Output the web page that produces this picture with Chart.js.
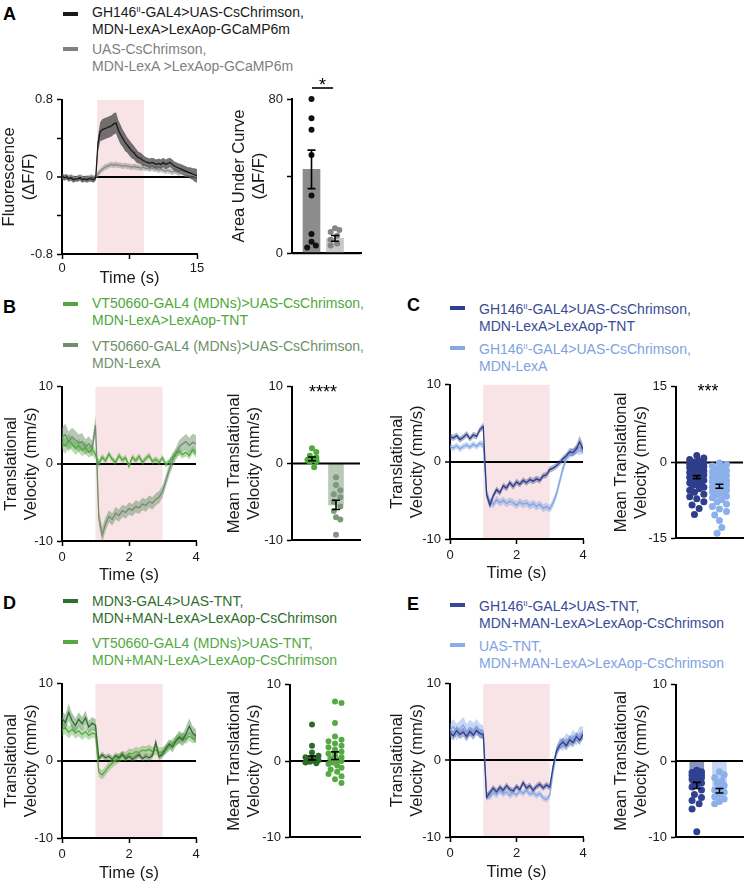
<!DOCTYPE html>
<html><head><meta charset="utf-8">
<script src="https://cdn.jsdelivr.net/npm/chart.js@4.4.1/dist/chart.umd.min.js"></script>
<style>
html,body{margin:0;padding:0;background:#fff;}
body{width:747px;height:884px;position:relative;overflow:hidden;font-family:"Liberation Sans",Arial,sans-serif;}
canvas{position:absolute;}
.lbl{position:absolute;font-weight:bold;font-size:18px;line-height:18px;color:#000;}
.leg{position:absolute;font-size:14px;line-height:17px;white-space:nowrap;}
.sw{position:absolute;width:15px;height:4px;}
sup{font-size:8px;vertical-align:5px;line-height:0;}
</style></head><body>

<div class="lbl" style="left:3px;top:5px">A</div>
<div class="sw" style="left:63px;top:12px;background:#1a1a1a"></div>
<div class="leg" style="left:92px;top:4px;color:#1a1a1a">GH146<sup>II</sup>-GAL4&gt;UAS-CsChrimson,<br>MDN-LexA&gt;LexAop-GCaMP6m</div>
<div class="sw" style="left:63px;top:47px;background:#808080"></div>
<div class="leg" style="left:92px;top:41px;color:#808080">UAS-CsChrimson,<br>MDN-LexA &gt;LexAop-GCaMP6m</div>

<div class="lbl" style="left:3px;top:298px">B</div>
<div class="sw" style="left:63px;top:302px;background:#4fa83d"></div>
<div class="leg" style="left:92px;top:295px;color:#4ea83a">VT50660-GAL4 (MDNs)&gt;UAS-CsChrimson,<br>MDN-LexA&gt;LexAop-TNT</div>
<div class="sw" style="left:63px;top:343px;background:#6f8f6b"></div>
<div class="leg" style="left:92px;top:338px;color:#6f8f6b">VT50660-GAL4 (MDNs)&gt;UAS-CsChrimson,<br>MDN-LexA</div>

<div class="lbl" style="left:407px;top:296px">C</div>
<div class="sw" style="left:450px;top:306px;background:#2f3f8b"></div>
<div class="leg" style="left:479px;top:301px;color:#3a4a96">GH146<sup>II</sup>-GAL4&gt;UAS-CsChrimson,<br>MDN-LexA&gt;LexAop-TNT</div>
<div class="sw" style="left:450px;top:346px;background:#86a9e6"></div>
<div class="leg" style="left:479px;top:341px;color:#7ea2e2">GH146<sup>II</sup>-GAL4&gt;UAS-CsChrimson,<br>MDN-LexA</div>

<div class="lbl" style="left:3px;top:594px">D</div>
<div class="sw" style="left:63px;top:599px;background:#2f6e2b"></div>
<div class="leg" style="left:92px;top:593px;color:#2f6e2b">MDN3-GAL4&gt;UAS-TNT,<br>MDN+MAN-LexA&gt;LexAop-CsChrimson</div>
<div class="sw" style="left:63px;top:640px;background:#55a844"></div>
<div class="leg" style="left:92px;top:635px;color:#52a841">VT50660-GAL4 (MDNs)&gt;UAS-TNT,<br>MDN+MAN-LexA&gt;LexAop-CsChrimson</div>

<div class="lbl" style="left:407px;top:595px">E</div>
<div class="sw" style="left:450px;top:603px;background:#34479b"></div>
<div class="leg" style="left:479px;top:598px;color:#3a4a96">GH146<sup>II</sup>-GAL4&gt;UAS-TNT,<br>MDN+MAN-LexA&gt;LexAop-CsChrimson</div>
<div class="sw" style="left:450px;top:643px;background:#89aee9"></div>
<div class="leg" style="left:479px;top:638px;color:#7ea2e2">UAS-TNT,<br>MDN+MAN-LexA&gt;LexAop-CsChrimson</div>

<script>
// ---------------- DATA ----------------
// Panel A: calcium imaging traces (time in s)
const tA = [0,0.25,0.5,0.75,1,1.25,1.5,1.75,2,2.25,2.5,2.75,3,3.25,3.5,3.75,4,4.25,4.5,4.75,5,5.25,5.5,5.75,6,6.25,6.5,6.75,7,7.25,7.5,7.75,8,8.25,8.5,8.75,9,9.25,9.5,9.75,10,10.25,10.5,10.75,11,11.25,11.5,11.75,12,12.25,12.5,12.75,13,13.25,13.5,13.75,14,14.25,14.5,14.75,15];
const aMeanGH146 = [0.01,-0.01,0.00,-0.02,-0.01,-0.03,-0.02,-0.02,-0.01,-0.03,-0.02,-0.03,-0.02,-0.02,-0.03,-0.01,
  0.35,0.47,0.49,0.50,0.51,0.52,0.53,0.55,0.56,0.49,0.44,0.40,0.36,0.33,0.30,0.27,0.25,0.22,0.20,0.19,0.17,0.16,0.15,0.14,0.15,0.14,0.13,0.14,0.13,0.15,0.13,0.14,0.15,0.13,0.11,0.10,0.09,0.08,0.07,0.06,0.05,0.04,0.03,0.02,0.01];
const aSemGH146 = [0.03,0.03,0.03,0.03,0.03,0.03,0.03,0.03,0.03,0.03,0.03,0.03,0.03,0.03,0.03,0.03,
  0.08,0.10,0.11,0.11,0.11,0.11,0.11,0.11,0.11,0.10,0.10,0.09,0.09,0.08,0.08,0.08,0.07,0.07,0.06,0.06,0.06,0.05,0.05,0.05,0.05,0.05,0.05,0.05,0.05,0.05,0.05,0.05,0.05,0.05,0.05,0.05,0.05,0.05,0.05,0.05,0.05,0.06,0.06,0.07,0.07];
const aMeanCtrl = [0.00,0.01,-0.01,0.00,0.01,0.00,-0.01,0.00,0.01,0.00,-0.01,0.00,0.00,0.01,0.00,0.00,
  0.03,0.06,0.08,0.10,0.11,0.12,0.13,0.12,0.13,0.12,0.12,0.11,0.12,0.11,0.11,0.10,0.11,0.10,0.10,0.09,0.10,0.09,0.09,0.08,0.09,0.08,0.08,0.07,0.08,0.07,0.06,0.07,0.06,0.05,0.06,0.05,0.04,0.05,0.04,0.03,0.03,0.02,0.02,0.01,0.00];
const aSemCtrl = [0.02,0.02,0.02,0.02,0.02,0.02,0.02,0.02,0.02,0.02,0.02,0.02,0.02,0.02,0.02,0.02,
  0.03,0.03,0.03,0.03,0.03,0.03,0.03,0.03,0.03,0.03,0.03,0.03,0.03,0.03,0.03,0.03,0.03,0.03,0.03,0.03,0.03,0.03,0.03,0.03,0.03,0.03,0.03,0.03,0.03,0.03,0.03,0.03,0.03,0.03,0.03,0.03,0.03,0.03,0.03,0.03,0.03,0.03,0.03,0.03,0.03];
const aucGH146 = [80, 70, 64, 51, 30, 10, 6, 4, 3];
const aucCtrl = [13, 12, 11, 9, 7, 5, 4];
const aucMean = [43.5, 7.7];
const aucSem = [10.0, 1.5];

// Panels B-E: translational velocity traces (time in s)
const tVel = [0,0.1,0.2,0.3,0.4,0.5,0.6,0.7,0.8,0.9,1.0,1.1,1.2,1.3,1.4,1.5,1.6,1.7,1.8,1.9,2.0,2.1,2.2,2.3,2.4,2.5,2.6,2.7,2.8,2.9,3.0,3.1,3.2,3.3,3.4,3.5,3.6,3.7,3.8,3.9,4.0];

const bMeanTNT = [2.8,2.3,3.0,2.6,2.0,2.4,1.8,2.1,1.5,1.9, 1.2,0.0,0.9,0.4,1.3,0.6,0.2,1.1,0.5,0.8, -0.3,0.9,0.4,1.0,0.2,0.7,1.1,0.3,0.6,0.2, 0.8,-0.1,0.3,0.9,1.4,1.6,1.2,1.5,1.1,1.8, 1.3];
const bSemTNT = [0.9,1.0,0.9,0.9,0.8,0.9,0.8,0.8,0.7,0.8, 0.6,0.5,0.4,0.4,0.4,0.4,0.4,0.4,0.4,0.4, 0.4,0.4,0.4,0.4,0.4,0.4,0.4,0.4,0.4,0.4, 0.4,0.4,0.4,0.5,0.5,0.5,0.5,0.5,0.5,0.5, 0.5];
const bMeanCtrl = [3.4,3.8,2.9,3.5,3.1,2.7,2.9,2.2,2.6,2.0, 5.0,-7.0,-9.2,-7.8,-6.8,-7.2,-6.4,-6.7,-6.1,-6.3, -5.8,-6.0,-5.5,-5.7,-5.2,-5.4,-4.9,-5.1,-4.6,-4.3, -3.6,-2.2,-0.8,0.4,1.3,2.2,2.6,2.9,2.4,2.8, 2.6];
const bSemCtrl = [1.3,1.4,1.3,1.2,1.2,1.1,1.1,1.0,1.0,1.0, 1.2,1.0,1.0,0.9,0.8,0.8,0.8,0.8,0.8,0.8, 0.8,0.8,0.8,0.8,0.8,0.8,0.8,0.8,0.8,0.8, 0.8,0.8,0.8,0.8,0.8,0.9,0.9,1.0,1.0,1.1, 1.1];
const bDotsTNT = [2.0, 1.5, 1.0, 0.8, 0.6, 0.5, 0.3, 0.2, -0.5];
const bDotsCtrl = [-1.8, -2.8, -3.5, -4.0, -4.4, -5.0, -5.6, -6.2, -7.0, -7.3, -9.3];
const bMean = [0.6, -5.4];
const bSem = [0.25, 0.6];

const cMeanTNT = [3.3,3.1,3.4,2.9,3.2,3.6,3.0,3.5,3.3,4.2, 4.6,-4.2,-5.6,-4.4,-3.6,-4.0,-3.1,-3.4,-2.7,-3.2, -2.6,-2.9,-2.4,-2.7,-2.3,-2.5,-2.2,-2.4,-1.8,-1.7, -1.0,-0.8,-0.5,-0.1,0.4,0.8,1.3,1.2,1.7,2.6, 1.6];
const cSemTNT = [0.4,0.4,0.4,0.4,0.4,0.4,0.4,0.4,0.4,0.4, 0.5,0.6,0.5,0.4,0.4,0.4,0.4,0.4,0.4,0.4, 0.4,0.4,0.4,0.4,0.4,0.4,0.4,0.4,0.4,0.4, 0.4,0.4,0.4,0.4,0.4,0.4,0.5,0.5,0.6,0.8, 0.7];
const cMeanCtrl = [2.0,1.8,2.1,1.7,2.0,2.2,1.9,2.3,2.0,2.4, 2.2,-4.0,-5.2,-5.5,-4.9,-5.3,-5.0,-5.4,-5.1,-5.3, -5.6,-5.2,-5.5,-5.3,-5.7,-5.4,-5.8,-5.5,-6.0,-5.8, -6.1,-5.3,-4.2,-2.5,-0.8,0.5,1.0,1.3,1.5,1.4, 1.7];
const cSemCtrl = [0.4,0.4,0.4,0.4,0.4,0.4,0.4,0.4,0.4,0.4, 0.5,0.6,0.5,0.5,0.5,0.5,0.5,0.5,0.5,0.5, 0.5,0.5,0.5,0.5,0.5,0.5,0.5,0.5,0.5,0.5, 0.5,0.6,0.6,0.6,0.6,0.6,0.5,0.5,0.5,0.5, 0.5];
const cDotsTNT = [1.4,0.9,0.6,0.3,0.1,-0.1,-0.3,-0.5,-0.7,-0.8,-1.0,-1.1,-1.3,-1.4,-1.5,-1.7,-1.8,-2.0,-2.1,-2.2,-2.4,-2.5,-2.6,-2.8,-2.9,-3.0,-3.2,-3.3,-3.5,-3.6,-3.8,-4.0,-4.2,-4.4,-4.6,-4.9,-5.2,-5.5,-5.9,-6.3,-6.8,-7.2,-7.8,-8.4,-9.1,-10.3];
const cDotsCtrl = [-0.1,-0.4,-0.7,-1.0,-1.3,-1.6,-1.9,-2.1,-2.4,-2.6,-2.9,-3.1,-3.3,-3.6,-3.8,-4.0,-4.3,-4.5,-4.8,-5.0,-5.3,-5.5,-5.8,-6.1,-6.4,-6.7,-7.0,-7.4,-7.8,-8.2,-8.7,-9.2,-9.7,-10.4,-11.5,-12.9,-14.0];
const cMean = [-2.9, -4.7];
const cSem = [0.3, 0.4];

const dMeanMDN3 = [5.5,5.0,6.3,5.2,4.6,5.4,4.8,5.6,4.4,4.9, 4.6,0.3,0.8,0.4,0.6,0.2,0.7,0.4,0.9,0.3, 0.6,0.2,0.5,0.8,0.3,0.6,0.4,0.7,2.4,0.5, 0.9,1.6,2.2,1.8,2.6,3.1,2.7,3.5,4.5,3.6, 3.2];
const dSemMDN3 = [1.0,1.0,1.1,1.0,0.9,0.9,0.9,0.9,0.8,0.8, 0.8,0.4,0.4,0.4,0.4,0.4,0.4,0.4,0.4,0.4, 0.4,0.4,0.4,0.4,0.4,0.4,0.4,0.4,0.5,0.4, 0.5,0.6,0.6,0.7,0.7,0.8,0.8,0.9,1.0,0.9, 0.9];
const dMeanVT = [4.0,4.3,3.7,4.1,3.6,3.9,3.4,3.8,3.3,3.6, 3.5,-1.5,-1.8,-1.3,-0.7,-0.3,0.1,0.4,0.7,0.6, 1.0,0.9,1.2,1.1,1.4,1.3,1.5,1.2,1.4,1.1, 1.2,1.5,1.9,2.3,2.6,2.9,3.1,2.8,3.2,2.9, 3.0];
const dSemVT = [0.8,0.8,0.8,0.7,0.7,0.7,0.7,0.7,0.6,0.6, 0.6,0.6,0.6,0.6,0.6,0.6,0.6,0.6,0.6,0.6, 0.6,0.6,0.6,0.6,0.6,0.6,0.6,0.6,0.6,0.6, 0.6,0.6,0.6,0.6,0.6,0.6,0.6,0.6,0.6,0.6, 0.6];
const dDotsMDN3 = [4.8, 2.0, 1.1, 0.7, 0.5, 0.4, 0.3, 0.2, 0.1, 0.0, -0.1, -0.2, -0.3];
const dDotsVT = [7.8,7.6,5.0,3.2,2.8,2.6,2.3,2.0,1.8,1.5,1.2,1.0,0.8,0.5,0.3,0.1,0.0,-0.2,-0.4,-0.6,-0.9,-1.1,-1.4,-1.7,-2.0,-2.4,-2.9];
const dMean = [0.4, 0.7];
const dSem = [0.25, 0.5];

const eMeanGH = [3.6,3.2,3.9,3.4,3.7,3.1,3.8,3.3,3.9,3.5, 3.4,-4.8,-4.2,-3.6,-4.1,-3.5,-3.9,-3.3,-3.8,-4.0, -3.4,-3.8,-2.9,-3.6,-3.3,-3.9,-3.4,-3.1,-3.6,-3.2, -3.5,-0.8,1.2,2.0,2.4,1.9,2.7,2.3,3.1,2.6, 3.4];
const eSemGH = [0.6,0.6,0.6,0.6,0.6,0.6,0.6,0.6,0.6,0.6, 0.6,0.5,0.4,0.4,0.4,0.4,0.4,0.4,0.4,0.4, 0.4,0.4,0.4,0.4,0.4,0.4,0.4,0.4,0.4,0.4, 0.4,0.5,0.6,0.6,0.6,0.6,0.6,0.6,0.6,0.6, 0.6];
const eMeanCtrl = [3.9,4.4,3.7,4.2,4.6,3.8,4.3,4.0,4.5,3.9, 3.7,-4.5,-4.8,-4.2,-4.5,-4.0,-4.4,-4.1,-4.6,-4.2, -4.5,-4.0,-4.3,-3.9,-4.4,-4.2,-4.6,-4.3,-4.9,-5.1, -4.6,-1.5,1.0,2.3,2.0,2.8,2.4,3.2,2.7,3.5, 3.6];
const eSemCtrl = [0.9,1.0,1.1,1.0,1.1,1.0,1.0,0.9,0.9,0.9, 0.9,0.5,0.4,0.4,0.4,0.4,0.4,0.4,0.4,0.4, 0.4,0.4,0.4,0.4,0.4,0.4,0.4,0.4,0.4,0.4, 0.4,0.6,0.7,0.7,0.8,0.8,0.8,0.8,0.8,0.9, 0.9];
const eDotsGH = [-1.2,-1.4,-1.5,-1.7,-1.8,-1.9,-2.0,-2.1,-2.2,-2.3,-2.4,-2.5,-2.7,-2.9,-3.1,-3.4,-3.8,-4.4,-4.8,-5.2,-5.6,-6.3,-9.3];
const eDotsCtrl = [-1.4,-1.8,-2.2,-2.6,-2.9,-3.2,-3.5,-3.8,-4.1,-4.4,-4.7,-5.0,-5.3,-5.6];
const eMean = [-3.2, -3.9];
const eSem = [0.4, 0.3];

// tick values and labels
const aLineXTicks = [0, 7.5, 15], aLineXLabels = ['0', '', '15'];
const aLineYTicks = [-0.8, -0.4, 0, 0.4, 0.8], aLineYLabels = ['-0.8', '', '0', '', '0.8'];
const aBarYTicks = [0, 40, 80], aBarYLabels = ['0', '', '80'];
const velXTicks = [0, 2, 4], velXLabels = ['0', '2', '4'];
const velYTicks = [-10, 0, 10], velYLabels = ['-10', '0', '10'];
const cBarYTicks = [-15, 0, 15], cBarYLabels = ['-15', '0', '15'];
const lightA = [3.9, 9.1], lightVel = [1, 3];

// ---------------- RENDERING ----------------
const FONT = '"Liberation Sans", Arial, sans-serif';
Chart.defaults.font.family = FONT;
Chart.defaults.color = '#1a1a1a';

function makeCanvas(left, top, w, h) {
  const c = document.createElement('canvas');
  c.width = w; c.height = h;
  c.style.left = left + 'px'; c.style.top = top + 'px';
  c.style.width = w + 'px'; c.style.height = h + 'px';
  document.body.appendChild(c);
  return c;
}
const setTicks = vals => s => { s.ticks = vals.map(v => ({value: v})); };
const isZero = ctx => ctx.tick && Math.abs(ctx.tick.value) < 1e-9;

Chart.register({
  id: 'lightWin',
  beforeDraw(chart, args, o) {
    if (!o || !o.range) return;
    const {ctx, chartArea: a, scales: {x}} = chart;
    const x0 = x.getPixelForValue(o.range[0]), x1 = x.getPixelForValue(o.range[1]);
    ctx.save(); ctx.fillStyle = o.color; ctx.fillRect(x0, a.top, x1 - x0, a.bottom - a.top); ctx.restore();
  }
});
Chart.register({
  id: 'extras',
  afterDatasetDraw(chart, args, o) {
    if (!o || o.zeroAfter !== args.index) return;
    const {ctx, chartArea: a, scales: {y}} = chart;
    const py = y.getPixelForValue(0);
    ctx.save(); ctx.strokeStyle = '#000'; ctx.lineWidth = 2;
    ctx.beginPath(); ctx.moveTo(a.left, py); ctx.lineTo(a.right, py); ctx.stroke(); ctx.restore();
  },
  afterDatasetsDraw(chart, args, o) {
    if (!o) return;
    const {ctx, chartArea: a, scales: {x, y}} = chart;
    ctx.save();
    (o.errs || []).forEach(e => {
      const px = x.getPixelForValue(e.x);
      const y0 = y.getPixelForValue(e.mean - e.sem), y1 = y.getPixelForValue(e.mean + e.sem);
      ctx.strokeStyle = '#000'; ctx.lineWidth = 1.6;
      ctx.beginPath();
      ctx.moveTo(px, y0); ctx.lineTo(px, y1);
      ctx.moveTo(px - 4, y0); ctx.lineTo(px + 4, y0);
      ctx.moveTo(px - 4, y1); ctx.lineTo(px + 4, y1);
      ctx.stroke();
    });
    if (o.sig) {
      const s = o.sig;
      ctx.fillStyle = '#000'; ctx.font = '18px ' + FONT;
      ctx.textAlign = 'center'; ctx.textBaseline = 'alphabetic';
      ctx.fillText(s.text, x.getPixelForValue(s.x), a.top + s.cy + 9.5);
      if (s.bracket) {
        const by = a.top + s.by;
        ctx.strokeStyle = '#000'; ctx.lineWidth = 1.6;
        ctx.beginPath(); ctx.moveTo(x.getPixelForValue(s.bracket[0]), by); ctx.lineTo(x.getPixelForValue(s.bracket[1]), by); ctx.stroke();
      }
    }
    ctx.restore();
  }
});

function lineChart(box, c) {
  const yW = 62, pt = 10, pr = 12;
  const W = box.r - box.l + yW + pr, H = box.b - box.t + pt + c.xH;
  const cv = makeCanvas(box.l - yW, box.t - pt, W, H);
  const datasets = [];
  c.traces.forEach((tr, i) => datasets.push({
    type: 'line', data: tr.t.map((t, k) => ({x: t, y: tr.mean[k]})),
    borderColor: tr.line, borderWidth: 1.3, pointRadius: 0, fill: false, order: i, tension: 0
  }));
  c.traces.forEach((tr, i) => {
    datasets.push({type: 'line', data: tr.t.map((t, k) => ({x: t, y: tr.mean[k] + tr.sem[k]})),
      borderColor: 'rgba(0,0,0,0)', borderWidth: 0, pointRadius: 0, backgroundColor: tr.band, fill: '+1', order: 10 + 2 * i});
    datasets.push({type: 'line', data: tr.t.map((t, k) => ({x: t, y: tr.mean[k] - tr.sem[k]})),
      borderColor: 'rgba(0,0,0,0)', borderWidth: 0, pointRadius: 0, fill: false, order: 10 + 2 * i});
  });
  new Chart(cv, {
    type: 'line',
    data: {datasets},
    options: {
      responsive: false, animation: false, events: [],
      layout: {padding: {top: pt, right: pr, left: 0, bottom: 0}},
      plugins: {legend: {display: false}, tooltip: {enabled: false},
        lightWin: {range: c.light, color: '#f8e4e6'}, extras: {}},
      scales: {
        x: {type: 'linear', min: c.xTicks[0], max: c.xTicks[c.xTicks.length - 1],
          afterBuildTicks: setTicks(c.xTicks),
          ticks: {callback: (v, i) => c.xLabels[i], font: {size: 13}, color: '#1a1a1a', padding: c.xPad, maxRotation: 0, autoSkip: false},
          grid: {drawOnChartArea: false, tickLength: 5, tickColor: '#000', tickWidth: 1.5},
          border: {color: '#000', width: 2},
          title: {display: true, text: 'Time (s)', font: {size: 16.5}, color: '#1a1a1a', padding: 0},
          afterFit: s => { s.height = c.xH; }},
        y: {type: 'linear', min: c.yTicks[0], max: c.yTicks[c.yTicks.length - 1],
          afterBuildTicks: setTicks(c.yTicks),
          ticks: {callback: (v, i) => c.yLabels[i], font: {size: 13}, color: '#1a1a1a', padding: 4, autoSkip: false},
          grid: {color: ctx => isZero(ctx) ? '#000' : 'rgba(0,0,0,0)', lineWidth: ctx => isZero(ctx) ? 2 : 1,
            tickLength: 5, tickColor: '#000', tickWidth: 1.5},
          border: {color: '#000', width: 2},
          title: {display: true, text: c.yTitle, font: {size: 16.5}, color: '#1a1a1a', padding: {top: c.yPad, bottom: 0}},
          afterFit: s => { s.width = yW; }}
      }
    }
  });
}

function swarm(vals, pxY, d, maxHalf) {
  const idx = vals.map((v, i) => i).sort((a, b) => vals[b] - vals[a]);
  const placed = [], off = new Array(vals.length).fill(0);
  idx.forEach(i => {
    const yp = vals[i] * pxY;
    let best = 0, bestGap = -1;
    const step = d / 3;
    for (let k = 0; ; k++) {
      const mag = Math.ceil(k / 2) * step;
      if (mag > maxHalf) break;
      const cand = (k % 2 ? 1 : -1) * mag;
      let gap = Infinity;
      placed.forEach(p => { const g = Math.hypot(p.x - cand, p.y - yp); if (g < gap) gap = g; });
      if (gap >= d) { best = cand; break; }
      if (gap > bestGap) { bestGap = gap; best = cand; }
    }
    placed.push({x: best, y: yp});
    off[i] = best;
  });
  return off;
}

function barChart(box, c) {
  const yW = 70, pt = c.pt, pr = c.pr, pb = 10, xH = 1;
  const W = box.r - box.l + yW + pr, H = box.b - box.t + pt + xH + pb;
  const cv = makeCanvas(box.l - yW, box.t - pt, W, H);
  const yMin = c.yTicks[0], yMax = c.yTicks[c.yTicks.length - 1];
  const pxY = (box.b - box.t) / (yMax - yMin);
  const pxX = (box.r - box.l) / (c.xRange[1] - c.xRange[0]);
  const datasets = [{type: 'bar', data: c.groups.map((g, i) => ({x: i + 1, y: g.mean})),
    backgroundColor: c.groups.map(g => g.bar), barThickness: c.barW, borderWidth: 0, order: 5}];
  c.groups.forEach((g, i) => {
    const off = swarm(g.dots, pxY, c.r * 2 + 0.5, c.maxHalf);
    datasets.push({type: 'scatter', data: g.dots.map((v, k) => ({x: i + 1 + off[k] / pxX, y: v})),
      backgroundColor: g.dot, borderWidth: 0, pointRadius: c.r, order: 1, clip: false});
  });
  new Chart(cv, {
    type: 'bar',
    data: {datasets},
    options: {
      responsive: false, animation: false, events: [],
      layout: {padding: {top: pt, right: pr, left: 0, bottom: pb}},
      plugins: {legend: {display: false}, tooltip: {enabled: false},
        extras: {zeroAfter: 0, errs: c.groups.map((g, i) => ({x: i + 1, mean: g.mean, sem: g.sem})), sig: c.sig}},
      scales: {
        x: {type: 'linear', min: c.xRange[0], max: c.xRange[1], offset: false,
          ticks: {display: false}, grid: {display: false},
          border: {display: true, color: '#000', width: 2},
          afterFit: s => { s.height = xH; }},
        y: {type: 'linear', min: yMin, max: yMax,
          afterBuildTicks: setTicks(c.yTicks),
          ticks: {callback: (v, i) => c.yLabels[i], font: {size: 13}, color: '#1a1a1a', padding: 4, autoSkip: false},
          grid: {drawOnChartArea: false, tickLength: 5, tickColor: '#000', tickWidth: 1.5},
          border: {color: '#000', width: 2},
          title: {display: true, text: c.yTitle, font: {size: 16.5}, color: '#1a1a1a', padding: {top: c.yPad, bottom: 0}},
          afterFit: s => { s.width = yW; }}
      }
    }
  });
}

const velTitle = ['Translational', 'Velocity (mm/s)'];
const meanVelTitle = ['Mean Translational', 'Velocity (mm/s)'];

// Panel A
lineChart({l: 62, r: 197, t: 98, b: 254}, {
  xTicks: aLineXTicks, xLabels: aLineXLabels, yTicks: aLineYTicks, yLabels: aLineYLabels,
  xH: 34, xPad: 2, yPad: 0, yTitle: ['Fluorescence', '(\u0394F/F)'], light: lightA,
  traces: [
    {t: tA, mean: aMeanGH146, sem: aSemGH146, line: '#1a1a1a', band: 'rgba(70,70,70,0.75)'},
    {t: tA, mean: aMeanCtrl, sem: aSemCtrl, line: '#8a8a8a', band: 'rgba(150,150,150,0.55)'}
  ]
});
barChart({l: 292, r: 361, t: 99, b: 254}, {
  yTicks: aBarYTicks, yLabels: aBarYLabels, yTitle: ['Area Under Curve', '(\u0394F/F)'], yPad: 8,
  pt: 25, pr: 10, xRange: [0.17, 3.106], barW: 17, r: 3, maxHalf: 6,
  groups: [
    {mean: aucMean[0], sem: aucSem[0], dots: aucGH146, bar: '#8c8c8c', dot: '#111111'},
    {mean: aucMean[1], sem: aucSem[1], dots: aucCtrl, bar: '#c8c8c8', dot: '#858585'}
  ],
  sig: {text: '*', x: 1.47, cy: -17.5, bracket: [1.02, 1.92], by: -11}
});

// Panel B
lineChart({l: 62, r: 196, t: 385, b: 541}, {
  xTicks: velXTicks, xLabels: velXLabels, yTicks: velYTicks, yLabels: velYLabels,
  xH: 44, xPad: 4, yPad: 2, yTitle: velTitle, light: lightVel,
  traces: [
    {t: tVel, mean: bMeanTNT, sem: bSemTNT, line: '#4fa83d', band: 'rgba(79,168,61,0.4)'},
    {t: tVel, mean: bMeanCtrl, sem: bSemCtrl, line: '#6f8f6b', band: 'rgba(111,143,107,0.5)'}
  ]
});
barChart({l: 292, r: 360, t: 385, b: 541}, {
  yTicks: velYTicks, yLabels: velYLabels, yTitle: meanVelTitle, yPad: 3,
  pt: 10, pr: 10, xRange: [0.167, 3.0], barW: 15, r: 3, maxHalf: 6,
  groups: [
    {mean: bMean[0], sem: bSem[0], dots: bDotsTNT, bar: 'rgba(79,168,61,0.35)', dot: '#4faa3c'},
    {mean: bMean[1], sem: bSem[1], dots: bDotsCtrl, bar: '#b8cab6', dot: '#7d987a'}
  ],
  sig: {text: '****', x: 1.46, cy: 2}
});

// Panel C
lineChart({l: 450, r: 583, t: 383, b: 539}, {
  xTicks: velXTicks, xLabels: velXLabels, yTicks: velYTicks, yLabels: velYLabels,
  xH: 44, xPad: 4, yPad: 0, yTitle: velTitle, light: lightVel,
  traces: [
    {t: tVel, mean: cMeanTNT, sem: cSemTNT, line: '#2c3c86', band: 'rgba(44,60,134,0.4)'},
    {t: tVel, mean: cMeanCtrl, sem: cSemCtrl, line: '#7fa3e3', band: 'rgba(127,163,227,0.45)'}
  ]
});
barChart({l: 676, r: 747, t: 385, b: 539}, {
  yTicks: cBarYTicks, yLabels: cBarYLabels, yTitle: meanVelTitle, yPad: 6,
  pt: 10, pr: 0, xRange: [0.083, 3.04], barW: 18, r: 3.5, maxHalf: 8,
  groups: [
    {mean: cMean[0], sem: cSem[0], dots: cDotsTNT, bar: 'rgba(47,63,139,0.45)', dot: '#2e3e8a'},
    {mean: cMean[1], sem: cSem[1], dots: cDotsCtrl, bar: 'rgba(138,174,232,0.45)', dot: '#8cb0ea'}
  ],
  sig: {text: '***', x: 1.5, cy: 1}
});

// Panel D
lineChart({l: 62, r: 196, t: 682, b: 838}, {
  xTicks: velXTicks, xLabels: velXLabels, yTicks: velYTicks, yLabels: velYLabels,
  xH: 45, xPad: 4, yPad: 2, yTitle: velTitle, light: lightVel,
  traces: [
    {t: tVel, mean: dMeanMDN3, sem: dSemMDN3, line: '#2f6e2b', band: 'rgba(47,110,43,0.4)'},
    {t: tVel, mean: dMeanVT, sem: dSemVT, line: '#55a844', band: 'rgba(85,168,68,0.4)'}
  ]
});
barChart({l: 290, r: 360, t: 683, b: 838}, {
  yTicks: velYTicks, yLabels: velYLabels, yTitle: meanVelTitle, yPad: 5,
  pt: 10, pr: 10, xRange: [0.043, 3.087], barW: 16, r: 3, maxHalf: 7,
  groups: [
    {mean: dMean[0], sem: dSem[0], dots: dDotsMDN3, bar: 'rgba(47,110,43,0.35)', dot: '#2d6b29'},
    {mean: dMean[1], sem: dSem[1], dots: dDotsVT, bar: 'rgba(85,168,68,0.35)', dot: '#56aa44'}
  ]
});

// Panel E
lineChart({l: 450, r: 583, t: 682, b: 837}, {
  xTicks: velXTicks, xLabels: velXLabels, yTicks: velYTicks, yLabels: velYLabels,
  xH: 45, xPad: 4, yPad: 0, yTitle: velTitle, light: lightVel,
  traces: [
    {t: tVel, mean: eMeanGH, sem: eSemGH, line: '#2d3f8c', band: 'rgba(45,63,140,0.4)'},
    {t: tVel, mean: eMeanCtrl, sem: eSemCtrl, line: '#84a8e6', band: 'rgba(132,168,230,0.45)'}
  ]
});
barChart({l: 676, r: 747, t: 683, b: 838}, {
  yTicks: velYTicks, yLabels: velYLabels, yTitle: meanVelTitle, yPad: 6,
  pt: 10, pr: 0, xRange: [0.083, 3.04], barW: 14, r: 3.5, maxHalf: 7,
  groups: [
    {mean: eMean[0], sem: eSem[0], dots: eDotsGH, bar: '#8a93bb', dot: '#2f4190'},
    {mean: eMean[1], sem: eSem[1], dots: eDotsCtrl, bar: '#c6d7f4', dot: '#8cb0ea'}
  ]
});
</script>
</body></html>
